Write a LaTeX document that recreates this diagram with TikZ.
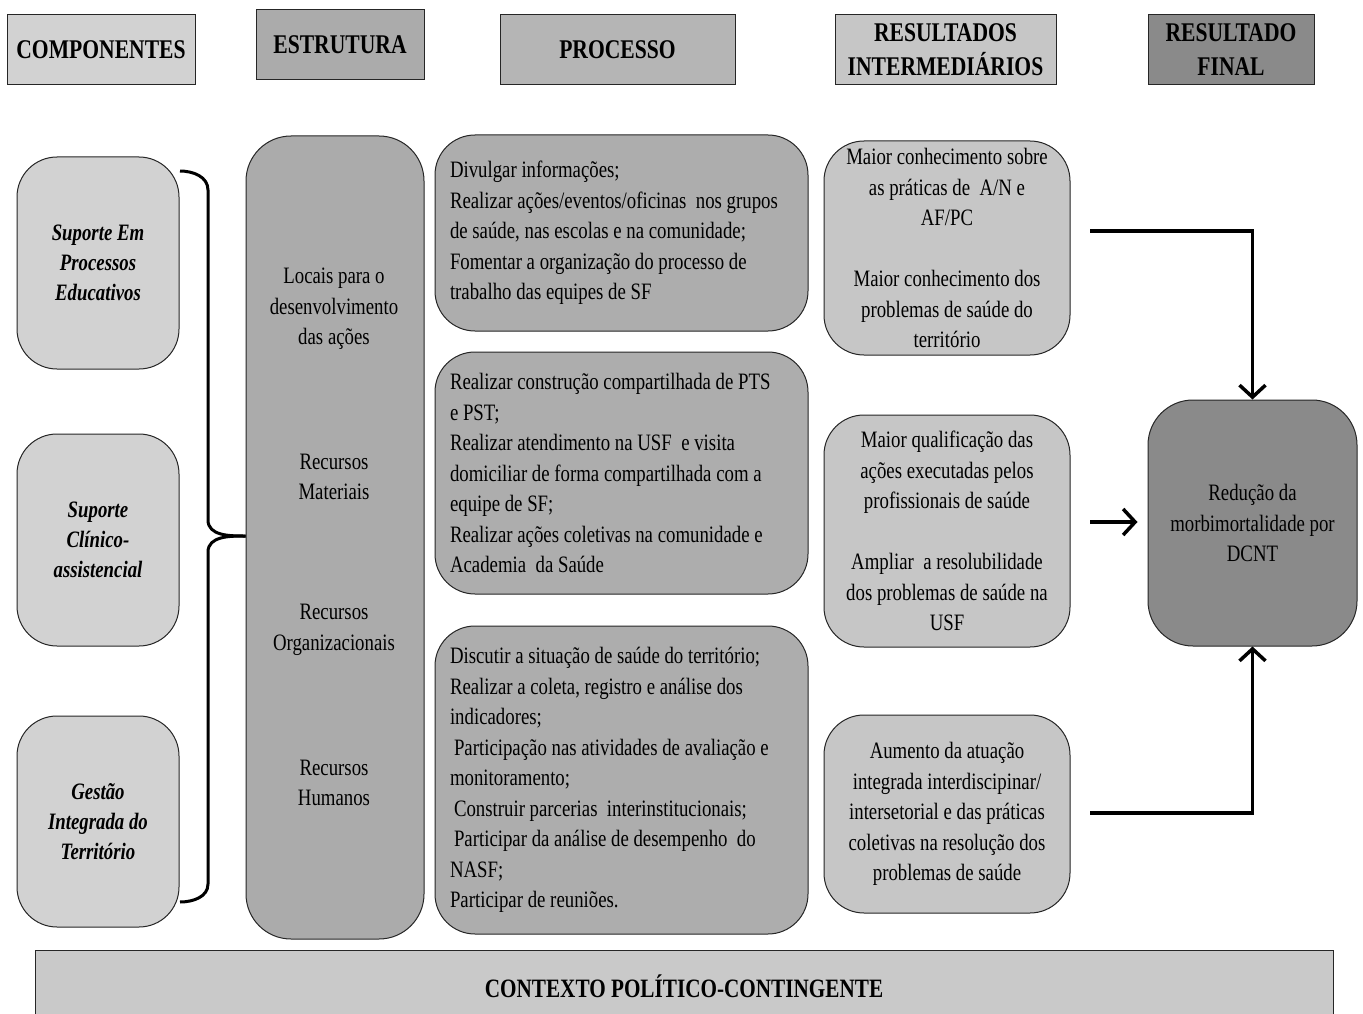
\documentclass[tikz,border=0pt]{standalone}
\usepackage{fontspec}
\setmainfont{Liberation Serif}[FakeStretch=0.8]
\usetikzlibrary{arrows.meta}
\definecolor{compgray}{HTML}{D2D2D2}
\definecolor{estrgray}{HTML}{ABABAB}
\definecolor{procgray}{HTML}{ADADAD}
\definecolor{resgray}{HTML}{C6C6C6}
\definecolor{fingray}{HTML}{8A8A8A}
\definecolor{ctxgray}{HTML}{C9C9C9}

\begin{document}
\begin{tikzpicture}[x=1pt,y=-1pt,
		head/.style={draw=black!85,line width=1pt,inner sep=0pt,align=flush center,font=\fontsize{27}{34}\selectfont\bfseries},
		txt/.style={inner sep=0pt,align=flush center,font=\fontsize{23.5}{30.5}\selectfont},
		box/.style={txt,draw=black!85,line width=1pt,rounded corners=40pt},
		compbox/.style={box,fill=compgray,minimum width=162pt,font=\fontsize{23.5}{30}\selectfont\bfseries\itshape},
		procbox/.style={box,fill=procgray,minimum width=373pt,text width=343pt,inner xsep=15pt,align=flush left},
		resbox/.style={box,fill=resgray,minimum width=246pt},
		link/.style={line width=3.5pt,-{Straight Barb[length=12pt,width=26pt,line width=3.5pt]}}]
		\clip (0,0) rectangle (1363,1014);
		\fill [white] (0,0) rectangle (1363,1014);
		% headers
		\node [head,fill=compgray,minimum width=188pt,minimum height=70pt] (hcomp) at (101,50) {COMPONENTES};
		\node [head,fill=estrgray,minimum width=168pt,minimum height=70pt] (hestr) at (340,45) {ESTRUTURA};
		\node [head,fill=procgray!90,minimum width=235pt,minimum height=70pt] (hproc) at (617.5,50) {PROCESSO};
		\node [head,fill=resgray,minimum width=221pt,minimum height=70pt] (hres) at (945.5,50) {RESULTADOS\\INTERMEDIÁRIOS};
		\node [head,fill=fingray,minimum width=166pt,minimum height=70pt] (hfin) at (1231,50) {RESULTADO\\FINAL};
		%
		\node [compbox,minimum height=212pt] (comp1) at (98,263) {Suporte Em\\Processos\\Educativos};
		\node [compbox,minimum height=212pt] (comp2) at (98,540) {Suporte\\Clínico-\\assistencial};
		\node [compbox,minimum height=211pt] (comp3) at (98,821.5) {Gestão\\Integrada do\\Território};
		%
		\node [box,fill=estrgray,rounded corners=45pt,minimum width=178pt,minimum height=803pt] (estr) at (335,537.5) {};
		\node [txt] (locais) at (334,309) {Locais para o\\desenvolvimento\\das ações};
		\node [txt] (materiais) at (334,477) {Recursos\\Materiais};
		\node [txt] (organiz) at (334,630) {Recursos\\Organizacionais};
		\node [txt] (humanos) at (334,783) {Recursos\\Humanos};
		%
		\coordinate (bTop) at (180,171);
		\coordinate (bBot) at (180,902);
		\draw [line width=3pt] (bTop) to[out=0,in=90] (208,190) -- (208,520) to[out=270,in=180] (estr.west |- 0,536);
		\draw [line width=3pt] (estr.west |- 0,536) to[out=180,in=90] (208,552) -- (208,884) to[out=270,in=0] (bBot);
		%
		\node [procbox,minimum height=196pt] (proc1) at (621.5,233) {Divulgar informações;\\Realizar ações/eventos/oficinas\ \ nos grupos\\de saúde, nas escolas e na comunidade;\\Fomentar a organização do processo de\\trabalho das equipes de SF};
		\node [procbox,minimum height=242pt] (proc2) at (621.5,473) {Realizar construção compartilhada de PTS\\e PST;\\Realizar atendimento na USF\ \ e visita\\domiciliar de forma compartilhada com a\\equipe de SF;\\Realizar ações coletivas na comunidade e\\Academia\ \ da Saúde};
		\node [procbox,minimum height=308pt] (proc3) at (621.5,780) {Discutir a situação de saúde do território;\\Realizar a coleta, registro e análise dos\\indicadores;\\\hspace{4pt}Participação nas atividades de avaliação e\\monitoramento;\\\hspace{4pt}Construir parcerias\ \ interinstitucionais;\\\hspace{4pt}Participar da análise de desempenho\ \ do\\NASF;\\Participar de reuniões.};
		%
		\node [resbox,minimum height=214pt] (res1) at (947,248) {Maior conhecimento sobre\\as práticas de\ \ A/N e\\AF/PC\\[30.5pt]Maior conhecimento dos\\problemas de saúde do\\território};
		\node [resbox,minimum height=232pt] (res2) at (947,531) {Maior qualificação das\\ações executadas pelos\\profissionais de saúde\\[30.5pt]Ampliar\ \ a resolubilidade\\dos problemas de saúde na\\USF};
		\node [resbox,minimum height=198pt] (res3) at (947,814) {Aumento da atuação\\integrada interdiscipinar/\\intersetorial e das práticas\\coletivas na resolução dos\\problemas de saúde};
		%
		\node [box,fill=fingray,rounded corners=45pt,minimum width=209pt,minimum height=246pt] (fin) at (1252.5,523) {Redução da\\morbimortalidade por\\DCNT};
		%
		\coordinate (a1) at (1090,231);
		\coordinate (a2) at (1090,522);
		\coordinate (a3) at (1090,813);
		\draw [link] (a1) -| (fin.north);
		\draw [link] (a2) -- ([xshift=-10pt]fin.west |- a2);
		\draw [link] (a3) -| (fin.south);
		%
		\node [draw=black!85,line width=1pt,fill=ctxgray,minimum width=1298pt,minimum height=80pt,anchor=north west,inner sep=0pt] (ctx) at (35,950) {};
		\node [font=\fontsize{26.5}{30}\selectfont\bfseries] (ctxtext) at (684,986) {CONTEXTO POLÍTICO-CONTINGENTE};
	\end{tikzpicture}
\end{document}
